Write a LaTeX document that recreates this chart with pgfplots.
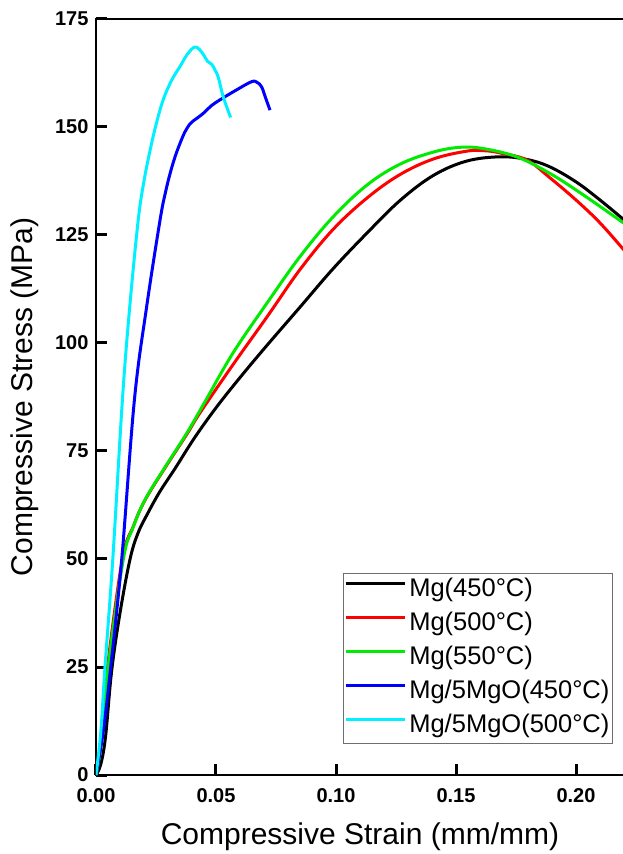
\documentclass[border=0pt]{standalone}
\usepackage{fontspec}
\setmainfont{Liberation Sans}
\usepackage{pgfplots}
\pgfplotsset{compat=1.18}
\definecolor{cBlack}{RGB}{0,0,0}
\definecolor{cRed}{RGB}{255,0,0}
\definecolor{cGreen}{RGB}{0,235,0}
\definecolor{cBlue}{RGB}{0,0,255}
\definecolor{cCyan}{RGB}{0,240,255}
\definecolor{legframe}{RGB}{110,110,110}

\begin{document}
\begin{tikzpicture}
  % page cut just left of the right spine, as in the reference
  \path[use as bounding box] (-96pt,-79pt) rectangle (526.6pt,775pt);
  \begin{axis}[
      scale only axis,
      width=528pt, height=756pt,
      xmin=0, xmax=0.22, ymin=0, ymax=175,
      axis line style={line width=2.5pt, black},
      xtick={0,0.05,0.1,0.15,0.2},
      ytick={0,25,50,75,100,125,150,175},
      xtick pos=left, ytick pos=left,
      tick align=inside,
      major tick length=11pt,
      every tick/.style={draw=black, line width=3pt},
      /pgf/number format/assume math mode=true,
      ticklabel style={font=\fontsize{20}{20}\selectfont\bfseries},
      xticklabel style={yshift=-10pt, /pgf/number format/fixed,
        /pgf/number format/fixed zerofill, /pgf/number format/precision=2},
      yticklabel style={xshift=-4pt},
      xlabel={Compressive Strain (mm/mm)},
      ylabel={Compressive Stress (MPa)},
      every axis x label/.style={at={(axis description cs:0.5,-0.092)}, anchor=base,
        font=\fontsize{30}{30}\selectfont},
      every axis y label/.style={at={(axis description cs:-0.12,0.5)}, anchor=base, rotate=90,
        font=\fontsize{30}{30}\selectfont},
      legend cell align=left,
      legend style={at={(rel axis cs:0.979,0.041)}, anchor=south east,
        draw=legframe, line width=1pt, inner xsep=1pt, inner ysep=5pt,
        font=\fontsize{25.5}{25.5}\selectfont,
        nodes={inner ysep=0pt, inner xsep=2pt, text height=18pt, text depth=6pt},
        /tikz/row sep=10.1pt, /tikz/column sep=1pt},
      legend image code/.code={\draw[#1, line width=3pt] (0pt,7pt) -- (59pt,7pt);},
      every axis plot/.append style={line width=3pt, smooth, tension=0.6},
    ]
    % Mg (450 C)
    \addplot[cBlack] coordinates {
      (0,0) (0.002,2.5) (0.004,9) (0.0065,24) (0.01,37.5) (0.0142,50) (0.0175,56)
      (0.0215,60.5) (0.0265,65.5) (0.033,71) (0.041,78) (0.05,85) (0.06,92)
      (0.071,99.3) (0.085,108.3) (0.0988,117.2) (0.113,125.5) (0.1267,133)
      (0.1406,138.8) (0.1544,142.1) (0.1683,143.1) (0.1794,142.5) (0.189,140.8)
      (0.2,137.3) (0.21,133.1) (0.22,128.5)};
    \addlegendentry{Mg(450°C)}
    % Mg (500 C)
    \addplot[cRed] coordinates {
      (0,0) (0.0025,9.7) (0.0048,25) (0.011,50) (0.0155,57.5) (0.0205,63.7)
      (0.029,71.3) (0.038,79) (0.0433,83.8) (0.0571,95) (0.0712,106)
      (0.085,117) (0.0988,126.3) (0.113,133.6) (0.1267,139) (0.1406,142.6)
      (0.1544,144.4) (0.162,144.5) (0.1683,144) (0.1794,142.4) (0.189,138.3)
      (0.2,133.1) (0.21,127.8) (0.22,121.5)};
    \addlegendentry{Mg(500°C)}
    % Mg (550 C)
    \addplot[cGreen] coordinates {
      (0,0) (0.0028,9.7) (0.0051,25) (0.0114,50) (0.0156,57.5) (0.0204,63.7)
      (0.0288,71.3) (0.0378,79.1) (0.0455,86.5) (0.0571,97.7) (0.0712,109.2)
      (0.085,120) (0.0988,129.2) (0.113,136.6) (0.1267,141.4) (0.1406,144.2)
      (0.1517,145.3) (0.1614,145) (0.1753,143.1) (0.189,139.3) (0.203,134.3)
      (0.22,127.7)};
    \addlegendentry{Mg(550°C)}
    % Mg/5MgO (450 C)
    \addplot[cBlue] coordinates {
      (0,0) (0.003,10) (0.0061,24.8) (0.0107,49.8) (0.016,86.8) (0.021,108)
      (0.0267,128.5) (0.029,135) (0.031,139.5) (0.033,143.2) (0.035,146.2)
      (0.037,148.8) (0.039,150.6) (0.0405,151.4) (0.0425,152.2) (0.045,153.3)
      (0.048,154.9) (0.0517,156.3) (0.0586,158.6) (0.0649,160.5) (0.0672,160.3)
      (0.069,159.3) (0.0705,157) (0.0725,153.9)};
    \addlegendentry{Mg/5MgO(450°C)}
    % Mg/5MgO (500 C)
    \addplot[cCyan] coordinates {
      (0,0) (0.002,10) (0.00375,25) (0.007,50) (0.011,86.8) (0.014,108)
      (0.0176,128.5) (0.02,137.5) (0.0225,144.5) (0.025,150.5) (0.028,156.3)
      (0.0315,160.8) (0.035,164) (0.038,166.8) (0.041,168.5) (0.043,168)
      (0.0447,166.8) (0.0465,165.2) (0.0482,164.5) (0.0495,163.3) (0.051,161.4)
      (0.053,157) (0.0561,152.2)};
    \addlegendentry{Mg/5MgO(500°C)}
  \end{axis}
\end{tikzpicture}
\end{document}
